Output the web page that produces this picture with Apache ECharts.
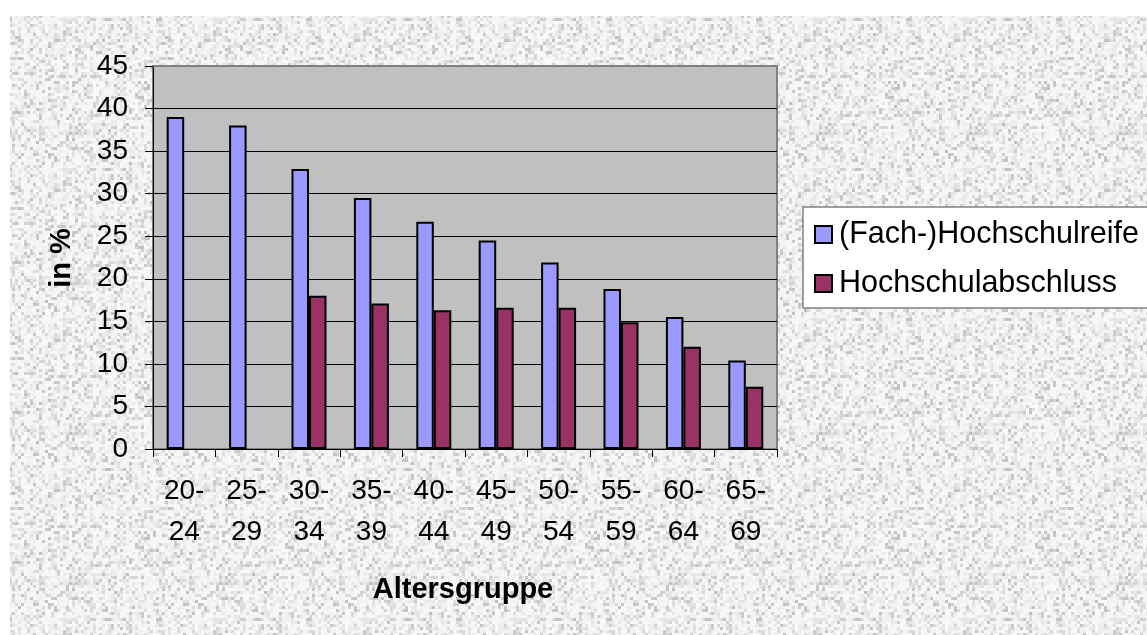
<!DOCTYPE html>
<html>
<head>
<meta charset="utf-8">
<title>Altersgruppe – Hochschulreife und Hochschulabschluss</title>
<script src="https://cdn.jsdelivr.net/npm/echarts@6/dist/echarts.min.js"></script>
<style>
  html, body { margin: 0; padding: 0; background: #ffffff; }
  #chart { width: 1147px; height: 635px; }
</style>
</head>
<body>
<div id="chart"></div>
<script>
// Age groups and shares (in %)
var categories = ['20-24', '25-29', '30-34', '35-39', '40-44', '45-49', '50-54', '55-59', '60-64', '65-69'];
var hochschulreife = [39.0, 38.0, 32.9, 29.5, 26.7, 24.5, 21.9, 18.8, 15.5, 10.4];
var hochschulabschluss = [null, null, 18.0, 17.1, 16.3, 16.6, 16.6, 14.9, 12.0, 7.3];
var seriesNames = ['(Fach-)Hochschulreife', 'Hochschulabschluss'];
var yTicks = { min: 0, max: 45, interval: 5 };

var FONT = '"Liberation Sans", Arial, sans-serif';
var gridLeft = 153, gridTop = 66, gridRight = 370, gridBottom = 186;

// Speckled light-grey paper texture for the chart background (deterministic hash noise)
function makeTexture() {
  var size = 150, cell = 3;
  var c = document.createElement('canvas');
  c.width = size; c.height = size;
  var ctx = c.getContext('2d');
  function hash(x, y) {
    var h = (x * 374761393 + y * 668265263) | 0;
    h = (h ^ (h >>> 13)) * 1274126177 | 0;
    h = h ^ (h >>> 16);
    return ((h >>> 0) % 10000) / 10000;
  }
  for (var y = 0; y < size; y += cell) {
    for (var x = 0; x < size; x += cell) {
      var r = hash(x / cell, y / cell);
      var g = Math.round(249 - Math.pow(r, 4) * 50 - r * 8);
      ctx.fillStyle = 'rgb(' + g + ',' + g + ',' + g + ')';
      ctx.fillRect(x, y, cell, cell);
    }
  }
  return c;
}

var chart = echarts.init(document.getElementById('chart'), null, { renderer: 'canvas' });

var barStyle = function (color) {
  return { color: color, borderColor: '#000000', borderWidth: 2 };
};

var option = {
  backgroundColor: '#ffffff',
  animation: false,
  graphic: [
    {
      type: 'rect', z: -100, silent: true,
      shape: { x: 10, y: 16, width: 1147, height: 635 },
      style: { fill: { image: makeTexture(), repeat: 'repeat' } }
    },
    {
      type: 'text', silent: true,
      x: 463, y: 590,
      style: { text: 'Altersgruppe', font: 'bold 29px ' + FONT, fill: '#000', align: 'center', verticalAlign: 'middle' }
    },
    {
      type: 'text', silent: true,
      x: 62, y: 258, rotation: Math.PI / 2,
      style: { text: 'in %', font: 'bold 29px ' + FONT, fill: '#000', align: 'center', verticalAlign: 'middle' }
    }
  ],
  grid: {
    left: gridLeft, top: gridTop, right: gridRight, bottom: gridBottom,
    show: true, backgroundColor: '#c0c0c0', borderColor: '#808080', borderWidth: 2
  },
  legend: {
    orient: 'vertical',
    left: 803, top: 207,
    padding: [12, 40, 9, 11],
    itemGap: 18,
    itemWidth: 17, itemHeight: 17,
    backgroundColor: '#ffffff',
    borderColor: '#808080', borderWidth: 1.5,
    icon: 'rect',
    textStyle: { fontFamily: FONT, fontSize: 30.5, color: '#000', padding: [0, 0, 0, 2] },
    data: seriesNames
  },
  xAxis: {
    type: 'category',
    data: categories,
    boundaryGap: true,
    axisLine: { lineStyle: { color: '#000', width: 1 } },
    axisTick: { show: true, inside: false, length: 8, interval: 0, lineStyle: { color: '#000' } },
    axisLabel: {
      interval: 0, margin: 22,
      fontFamily: FONT, fontSize: 28, color: '#000', lineHeight: 41,
      formatter: function (v) { return v.replace('-', '-\n'); }
    },
    splitLine: { show: false }
  },
  yAxis: {
    type: 'value',
    min: yTicks.min, max: yTicks.max, interval: yTicks.interval,
    axisLine: { show: true, lineStyle: { color: '#000', width: 1 } },
    axisTick: { show: true, inside: false, length: 8, lineStyle: { color: '#000' } },
    axisLabel: { margin: 25, fontFamily: FONT, fontSize: 28, color: '#000' },
    splitLine: { show: true, lineStyle: { color: '#000', width: 1 } }
  },
  series: [
    {
      name: seriesNames[0], type: 'bar', data: hochschulreife,
      barWidth: 17.5, barGap: '0%',
      itemStyle: barStyle('#9999ff')
    },
    {
      name: seriesNames[1], type: 'bar', data: hochschulabschluss,
      barWidth: 17.5, barGap: '0%',
      itemStyle: barStyle('#993366')
    }
  ]
};

chart.setOption(option);

// Grey frame line along the top of the plot area, at the axis maximum
var yTop = chart.convertToPixel({ yAxisIndex: 0 }, yTicks.max);
chart.setOption({
  graphic: option.graphic.concat([{
    type: 'line', silent: true, z: 10,
    shape: { x1: gridLeft, y1: yTop, x2: 1147 - gridRight + 1, y2: yTop },
    style: { stroke: '#808080', lineWidth: 2 }
  }])
});
</script>
</body>
</html>
